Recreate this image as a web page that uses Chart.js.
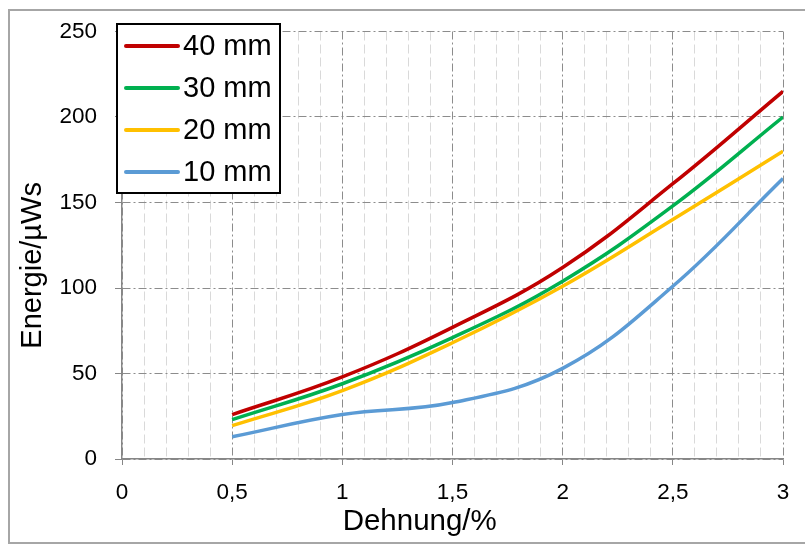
<!DOCTYPE html>
<html>
<head>
<meta charset="utf-8">
<script src="https://cdn.jsdelivr.net/npm/chart.js"></script>
<style>
    body { margin: 0; background: #fff; }
    #wrap { position: relative; width: 805px; height: 545px; }
    #frame {
        position: absolute; left: 8px; top: 9px; width: 810px; height: 531px;
        border: 2px solid #a6a6a6; pointer-events: none;
    }
</style>
</head>
<body>
<div id="wrap">
    <canvas id="energyChart"></canvas>
    <div id="frame"></div>
</div>
<script>
// Dehnung in %
const strain = [0.5, 1, 1.5, 2, 2.5, 3];
// Energie in µWs je Probenlänge
const e40 = [26, 48, 77, 112, 161, 215];
const e30 = [23, 44, 71, 104, 148, 200];
const e20 = [19.5, 40, 68, 101, 140, 180];
const e10 = [13, 26, 33, 53, 101, 164];
const seriesLabels = ['40 mm', '30 mm', '20 mm', '10 mm'];
const seriesColors = ['#C00000', '#00B050', '#FFC000', '#5B9BD5'];

const fontFamily = '"Liberation Sans", Arial, sans-serif';
const dashDot = [8, 3, 2, 3];

function toPoints(ys) {
    return strain.map((x, i) => ({ x: x, y: ys[i] }));
}

function isMajor(v) {
    return Math.abs(v * 2 - Math.round(v * 2)) < 1e-6;
}

// Legend with a framed white box, drawn on top of the grid
const boxedLegend = {
    id: 'boxedLegend',
    afterDraw(chart) {
        const c = chart.ctx;
        const left = 117, top = 24, width = 163, height = 169;
        c.save();
        c.fillStyle = '#fff';
        c.fillRect(left, top, width, height);
        c.lineWidth = 2;
        c.strokeStyle = '#000';
        c.strokeRect(left, top, width, height);
        c.font = '29px ' + fontFamily;
        c.textBaseline = 'middle';
        c.fillStyle = '#000';
        chart.data.datasets.forEach((ds, i) => {
            const y = 46 + i * 42;
            c.beginPath();
            c.lineCap = 'round';
            c.lineWidth = 4;
            c.strokeStyle = ds.borderColor;
            c.moveTo(126, y);
            c.lineTo(178, y);
            c.stroke();
            c.fillText(ds.label, 183, y + 1);
        });
        c.restore();
    }
};

const ctx = document.getElementById('energyChart').getContext('2d');
const energyChart = new Chart(ctx, {
    type: 'line',
    data: {
        datasets: [e40, e30, e20, e10].map((ys, i) => ({
            label: seriesLabels[i],
            data: toPoints(ys),
            borderColor: seriesColors[i],
            backgroundColor: seriesColors[i],
            borderWidth: 3.5,
            pointRadius: 0,
            tension: 0.4,
            fill: false
        }))
    },
    options: {
        responsive: true,
        maintainAspectRatio: false,
        animation: false,
        layout: {
            padding: { left: 8, top: 25, right: 22, bottom: 5 }
        },
        scales: {
            x: {
                type: 'linear',
                min: 0,
                max: 3,
                afterFit: (scale) => { scale.height = 81; },
                ticks: {
                    stepSize: 0.5,
                    padding: 14,
                    color: '#000',
                    font: { family: fontFamily, size: 22.5 },
                    callback: (v) => String(v).replace('.', ',')
                },
                grid: {
                    color: '#8c8c8c',
                    lineWidth: 1,
                    tickLength: 6,
                    tickColor: '#868686'
                },
                border: { display: true, color: '#868686', width: 1.5, dash: dashDot },
                title: {
                    display: true,
                    // trailing spaces push the title left of the plot centre, as in the original
                    text: 'Dehnung/%        ',
                    color: '#000',
                    font: { family: fontFamily, size: 29.5 },
                    padding: { top: 0, bottom: 0 }
                }
            },
            // minor vertical grid every 0,1
            xMinor: {
                type: 'linear',
                position: 'bottom',
                min: 0,
                max: 3,
                afterFit: (scale) => { scale.height = 0; },
                ticks: { stepSize: 0.1, display: false },
                grid: {
                    drawTicks: false,
                    color: (c) => isMajor(c.tick.value) ? 'rgba(0,0,0,0)' : '#d9d9d9',
                    lineWidth: 1
                },
                border: { display: false, dash: [9, 4] }
            },
            y: {
                min: 0,
                max: 250,
                afterFit: (scale) => { scale.width = 114; },
                ticks: {
                    stepSize: 50,
                    padding: 18,
                    color: '#000',
                    font: { family: fontFamily, size: 22.5 }
                },
                grid: {
                    color: '#8c8c8c',
                    lineWidth: 1,
                    tickLength: 7,
                    tickColor: '#868686'
                },
                border: { display: true, color: '#868686', width: 1.5, dash: dashDot },
                title: {
                    display: true,
                    text: 'Energie/µWs     ',
                    color: '#000',
                    font: { family: fontFamily, size: 29 },
                    padding: { top: 8, bottom: 0 }
                }
            }
        },
        plugins: {
            legend: { display: false },
            tooltip: { enabled: false }
        }
    },
    plugins: [boxedLegend]
});
</script>
</body>
</html>
